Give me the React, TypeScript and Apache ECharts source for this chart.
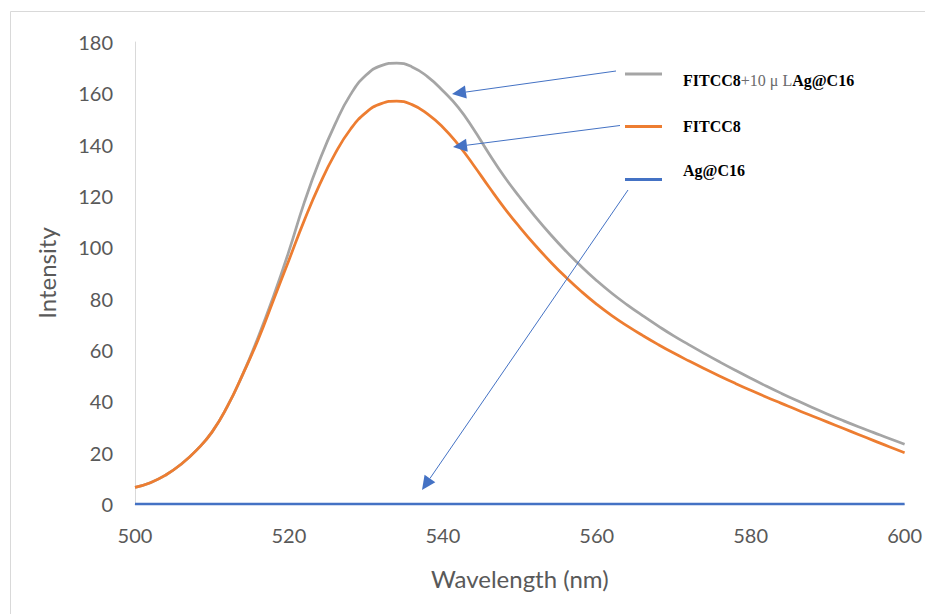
import React, { useEffect, useRef } from "react";
import * as echarts from "echarts";

const wavelengths = [500, 502, 504, 506, 508, 510, 512, 514, 516, 518, 520, 522, 524, 526, 528, 530, 532, 534, 536, 538, 540, 542, 544, 546, 548, 550, 552, 554, 556, 558, 560, 562, 564, 566, 568, 570, 572, 574, 576, 578, 580, 582, 584, 586, 588, 590, 592, 594, 596, 598, 600];

const fitcc8Ag = [6.5, 8.3, 11.3, 15.5, 21, 28, 38, 50.5, 65, 81, 98.5, 117.5, 134, 148, 159.5, 167, 170.8, 171.8, 170.3, 166.5, 161, 154.5, 146, 136.5, 127.5, 119.5, 112, 105, 98.5, 92.5, 87, 82, 77.5, 73.3, 69.3, 65.5, 62, 58.6, 55.3, 52.1, 49, 46, 43.1, 40.3, 37.6, 35, 32.5, 30.1, 27.8, 25.5, 23.3];

const fitcc8 = [6.5, 8.3, 11.3, 15.5, 21, 28, 38, 50.5, 64, 79.5, 95, 110.5, 124.5, 136.5, 146, 152.5, 156, 157, 155.6, 152, 146.8, 140, 132, 123.5, 115.3, 107.8, 100.8, 94.3, 88.3, 82.8, 77.8, 73.3, 69.3, 65.6, 62.1, 58.8, 55.7, 52.7, 49.8, 47, 44.3, 41.7, 39.2, 36.7, 34.3, 31.9, 29.5, 27.1, 24.7, 22.3, 20];

const agC16 = [0, 0, 0, 0, 0, 0, 0, 0, 0, 0, 0, 0, 0, 0, 0, 0, 0, 0, 0, 0, 0, 0, 0, 0, 0, 0, 0, 0, 0, 0, 0, 0, 0, 0, 0, 0, 0, 0, 0, 0, 0, 0, 0, 0, 0, 0, 0, 0, 0, 0, 0];

const seriesNames = ["FITCC8+10μLAg@C16", "FITCC8", "Ag@C16"];
const seriesColors = ["#A5A5A5", "#ED7D31", "#4472C4"];

const pairs = (ys: number[]) => wavelengths.map((x, i) => [x, ys[i]]);

function arrow(x1: number, y1: number, x2: number, y2: number, color: string) {
  const dx = x2 - x1;
  const dy = y2 - y1;
  const len = Math.sqrt(dx * dx + dy * dy);
  const ux = dx / len;
  const uy = dy / len;
  const hl = 14;
  const hw = 6.5;
  const bx = x2 - ux * hl;
  const by = y2 - uy * hl;
  return [
    {
      type: "line",
      shape: { x1, y1, x2: bx, y2: by },
      style: { stroke: color, lineWidth: 1 },
      z: 100,
    },
    {
      type: "polygon",
      shape: {
        points: [
          [x2, y2],
          [bx - uy * hw, by + ux * hw],
          [bx + uy * hw, by - ux * hw],
        ],
      },
      style: { fill: color },
      z: 100,
    },
  ];
}

export default function App() {
  const ref = useRef<HTMLDivElement>(null);

  useEffect(() => {
    if (!ref.current) return;
    const chart = echarts.init(ref.current, null, { renderer: "svg" });
    const axisFont = "Lato, 'Open Sans', sans-serif";
    const serif = "'Liberation Serif', serif";
    const legendRows = [
      { lineY: 74, textY: 80 },
      { lineY: 126.5, textY: 126 },
      { lineY: 179.5, textY: 170 },
    ];
    const legendGraphics: any[] = [];
    legendRows.forEach((r, i) => {
      legendGraphics.push({
        type: "line",
        shape: { x1: 625, y1: r.lineY, x2: 662, y2: r.lineY },
        style: { stroke: seriesColors[i], lineWidth: 3 },
        z: 100,
      });
    });
    legendGraphics.push({
      type: "text",
      x: 683,
      y: legendRows[0].textY,
      style: {
        text: "{b|FITCC8}{g|+10 μ L}{b|Ag@C16}",
        verticalAlign: "middle",
        rich: {
          b: { fontFamily: serif, fontWeight: "bold", fontSize: 16, fill: "#000" },
          g: { fontFamily: serif, fontSize: 16, fill: "#6b6b6b" },
        },
      },
      z: 100,
    });
    [1, 2].forEach((i) => {
      legendGraphics.push({
        type: "text",
        x: 683,
        y: legendRows[i].textY,
        style: {
          text: seriesNames[i],
          fontFamily: serif,
          fontWeight: "bold",
          fontSize: 16,
          fill: "#000",
          verticalAlign: "middle",
        },
        z: 100,
      });
    });

    const option: any = {
      animation: false,
      backgroundColor: "#ffffff",
      grid: { left: 135, right: 19, top: 42, bottom: 110, containLabel: false },
      xAxis: {
        type: "value",
        min: 500,
        max: 600,
        interval: 20,
        name: "Wavelength (nm)",
        nameLocation: "middle",
        nameGap: 62,
        nameTextStyle: { fontFamily: axisFont, fontSize: 24, color: "#595959" },
        axisLine: { show: true, lineStyle: { color: "#D9D9D9", width: 1 } },
        axisTick: { show: false },
        splitLine: { show: false },
        axisLabel: { fontFamily: axisFont, fontSize: 20, color: "#595959", margin: 21 },
      },
      yAxis: {
        type: "value",
        min: 0,
        max: 180,
        interval: 20,
        name: "Intensity",
        nameLocation: "middle",
        nameGap: 77,
        nameRotate: 90,
        nameTextStyle: { fontFamily: axisFont, fontSize: 24, color: "#595959" },
        axisLine: { show: true, lineStyle: { color: "#D9D9D9", width: 1 } },
        axisTick: { show: false },
        splitLine: { show: false },
        axisLabel: { fontFamily: axisFont, fontSize: 20, color: "#595959", margin: 22 },
      },
      series: [
        {
          name: seriesNames[0],
          type: "line",
          data: pairs(fitcc8Ag),
          smooth: true,
          showSymbol: false,
          lineStyle: { color: seriesColors[0], width: 2.75 },
          itemStyle: { color: seriesColors[0] },
        },
        {
          name: seriesNames[1],
          type: "line",
          data: pairs(fitcc8),
          smooth: true,
          showSymbol: false,
          lineStyle: { color: seriesColors[1], width: 2.75 },
          itemStyle: { color: seriesColors[1] },
        },
        {
          name: seriesNames[2],
          type: "line",
          data: pairs(agC16),
          smooth: false,
          showSymbol: false,
          lineStyle: { color: seriesColors[2], width: 2.75 },
          itemStyle: { color: seriesColors[2] },
        },
      ],
      graphic: [
        {
          type: "rect",
          shape: { x: 10.5, y: 11.5, width: 1000, height: 1000 },
          style: { fill: "none", stroke: "#D9D9D9", lineWidth: 1 },
          z: -1,
          silent: true,
        },
        ...legendGraphics,
        ...arrow(616, 71, 452, 94, "#4472C4"),
        ...arrow(620, 125.5, 453, 147, "#4472C4"),
        ...arrow(628, 190, 422, 490, "#4472C4"),
      ],
    };
    chart.setOption(option);
    return () => chart.dispose();
  }, []);

  return (
    <div
      ref={ref}
      style={{ position: "fixed", left: 0, top: 0, width: 925, height: 614, background: "#fff" }}
    />
  );
}
